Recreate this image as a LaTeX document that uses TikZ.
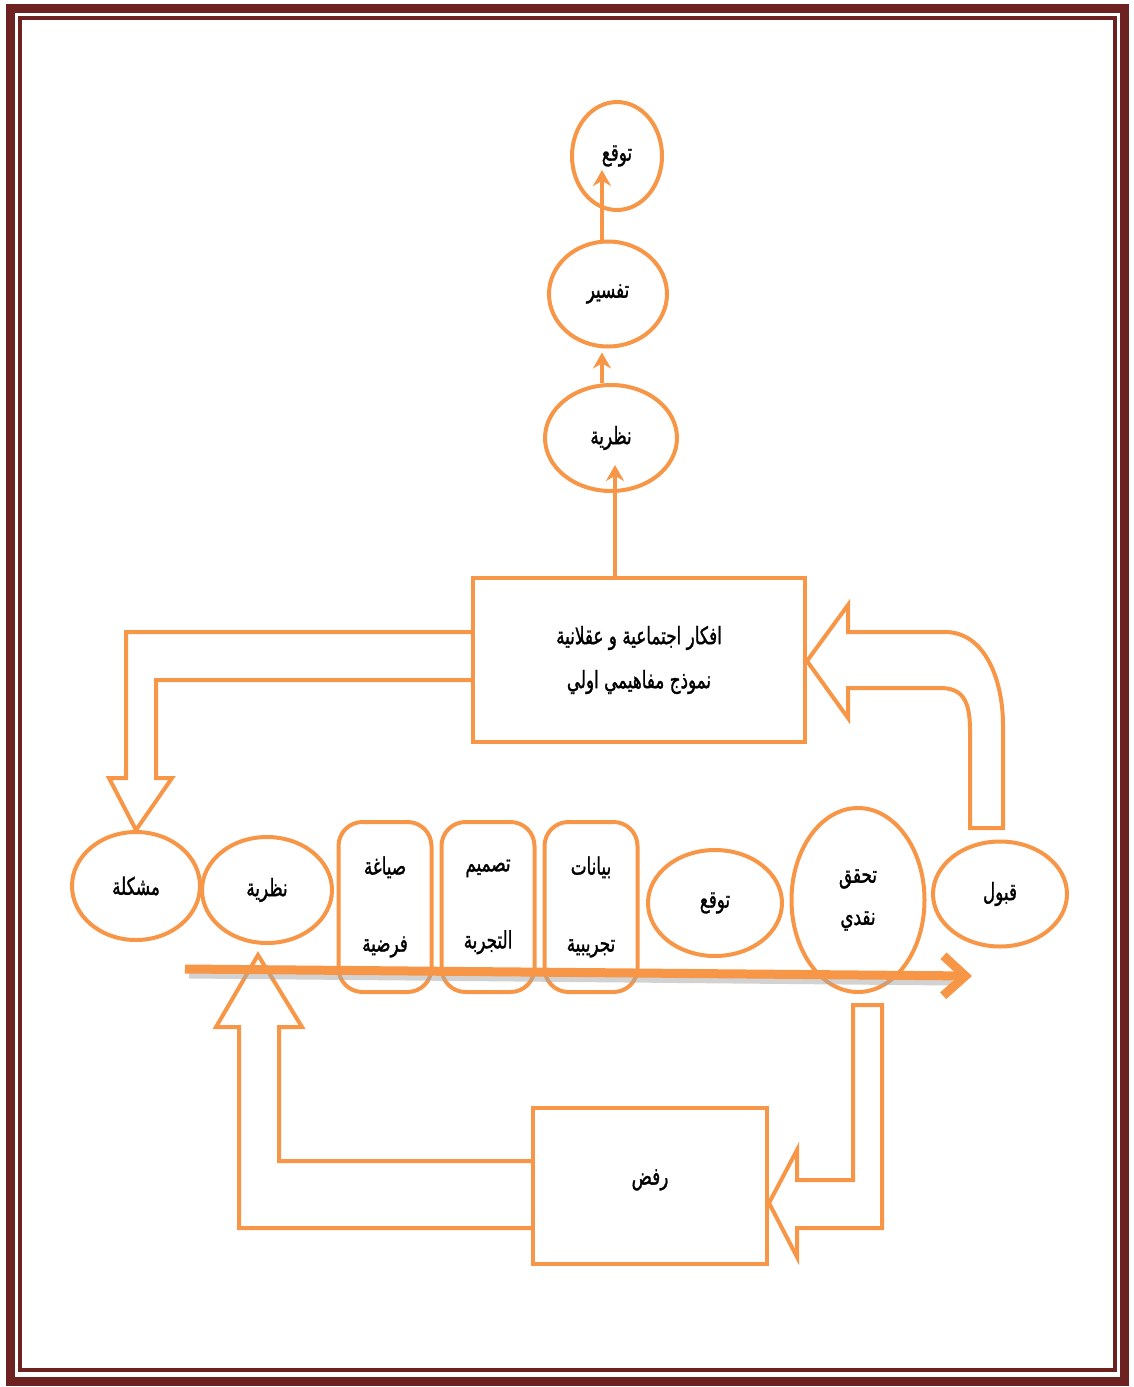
\documentclass[tikz,border=0pt]{standalone}
\usepackage{fontspec}
\usepackage{tikz}
\usetikzlibrary{shapes.geometric, arrows.meta, calc, positioning}
\TeXXeTstate=1
\newfontfamily\arabicfont[Script=Arabic, FakeStretch=0.7, FakeBold=1.2]{DejaVu Sans}
\newcommand{\artxt}[1]{{\arabicfont\beginR #1\endR}}
\definecolor{Accent-6}{RGB}{247,150,70}
\definecolor{Frame-1}{RGB}{110,33,33}

\begin{document}
\begin{tikzpicture}[x=1pt, y=-1pt]
      \tikzset{ oval/.style  ={draw=Accent-6, ellipse,   line width=4pt, inner sep=0pt, text=black, font=\fontsize{24}{28}\selectfont} }
      \tikzset{ card/.style  ={draw=Accent-6, rectangle, line width=4pt, inner sep=0pt, text=black, rounded corners=24pt, minimum width=93pt, minimum height=170pt, align=center, font=\fontsize{24}{28}\selectfont} }
      \tikzset{ panel/.style ={draw=Accent-6, rectangle, line width=4pt, inner sep=0pt, text=black, align=center, font=\fontsize{24}{28}\selectfont} }
      \tikzset{ thin/.style  ={draw=Accent-6, line width=4pt, -{Stealth[length=16pt, width=18pt]}} }
      \tikzset{ block/.style ={draw=Accent-6, line width=4pt, line join=miter} }

      \path[use as bounding box] (0, 0) rectangle (1133, 1387);
      \draw[Frame-1, line width=9pt  ] (10, 8) rectangle (1124, 1381);
      \draw[Frame-1, line width=3.5pt] (20, 18) rectangle (1115, 1370);

      \node[oval, minimum width=90pt,  minimum height=108pt] (predtop)  at ( 617, 156) {\artxt{توقع}};
      \node[oval, minimum width=118pt, minimum height=105pt] (tafsir)   at ( 608, 294) {\artxt{تفسير}};
      \node[oval, minimum width=132pt, minimum height=106pt] (theorytop) at ( 611, 438) {\artxt{نظرية}};
      \node[panel, minimum width=332pt, minimum height=164pt] (ideas)   at ( 639, 660) {\artxt{افكار اجتماعية و عقلانية}\\[16pt]\artxt{نموذج مفاهيمي اولي}};

      \node[oval, minimum width=128pt, minimum height=108pt] (problem)  at ( 136, 886) {\artxt{مشكلة}};
      \node[oval, minimum width=130pt, minimum height=106pt] (theory)   at ( 267, 890) {\artxt{نظرية}};
      \node[card                                           ] (hypo)     at ( 385, 907) {\artxt{صياغة}\\[49pt]\artxt{فرضية}};
      \node[card                                           ] (design)   at ( 488, 907) {\artxt{تصميم}\\[49pt]\artxt{التجربة}};
      \node[card                                           ] (data)     at ( 591, 907) {\artxt{بيانات}\\[49pt]\artxt{تجريبية}};
      \node[oval, minimum width=134pt, minimum height=106pt] (predict)  at ( 715, 903) {\artxt{توقع}};
      \node[oval, minimum width=133pt, minimum height=184pt, align=center] (critic) at ( 858, 900) {\artxt{تحقق}\\[14pt]\artxt{نقدي}};
      \node[oval, minimum width=134pt, minimum height=105pt] (accept)   at (1000, 894) {\artxt{قبول}};

      \node[panel, minimum width=234pt, minimum height=156pt] (reject)  at ( 650, 1186) {\raisebox{18pt}{\artxt{رفض}}};

      \draw[thin] ($(tafsir.north)+(-6,0)$) -- ($(tafsir.north |- predtop.south)+(-6,-42)$);
      \draw[thin] ($(theorytop.north)+(-9,0)$) -- ($(theorytop.north |- tafsir.south)+(-9,4)$);
      \draw[thin] ($(ideas.north)+(-24,0)$) -- ($(ideas.north |- theorytop.south)+(-24,-28)$);

      \draw[block] (ideas.west |- 0, 632) -- (126, 632) -- (126, 778) -- (109, 778) -- (problem.north) -- (172, 778) -- (156, 778) -- (156, 680) -- (ideas.west |- 0, 680);
      \draw[block] (970, 828) -- (970, 730) .. controls (970, 700) and (962, 688) .. (940, 688) -- (848, 688) -- (848, 718) -- (ideas.east |- 0, 661) -- (848, 605) -- (848, 632) -- (945, 632) .. controls (985, 632) and (1003, 680) .. (1003, 725) -- (1003, 828) -- cycle;
      \draw[block] (reject.west |- 0, 1228) -- (239, 1228) -- (239, 1027) -- (216, 1027) -- (258, 955) -- (302, 1027) -- (279, 1027) -- (279, 1161) -- (reject.west |- 0, 1161);
      \draw[block] (853, 1005) -- (882, 1005) -- (882, 1228) -- (797, 1228) -- (797, 1257) -- (reject.east |- 0, 1203) -- (797, 1150) -- (797, 1180) -- (853, 1180) -- cycle;

      \coordinate (flowstart) at (185, 969);
      \coordinate (flowend)   at (972, 976);
      \draw[black!35, opacity=0.5, line width=7pt] ($(flowstart)+(4,6)$) -- ($(flowend)+(-20,6)$);
      \draw[Accent-6, line width=9pt, -{Straight Barb[length=22pt, width=40pt]}] (flowstart) -- (flowend);
    \end{tikzpicture}
\end{document}
